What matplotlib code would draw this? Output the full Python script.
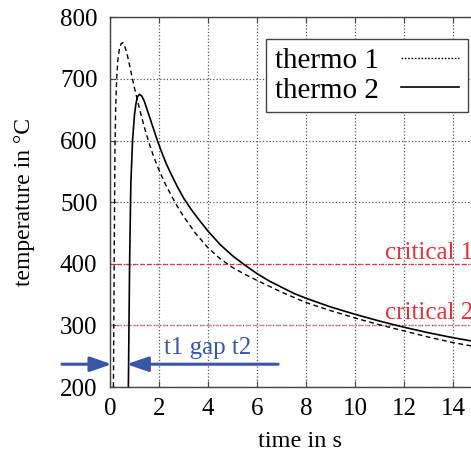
import matplotlib
matplotlib.use("Agg")
import matplotlib.pyplot as plt
from matplotlib.lines import Line2D

plt.rcParams['font.family'] = ['Liberation Serif', 'DejaVu Serif']
plt.rcParams['font.size'] = 17

# thermo 1 (dashed)
t1_time = [0.14, 0.17, 0.20, 0.23, 0.27, 0.32, 0.38, 0.45, 0.52, 0.60, 0.70, 0.80, 0.90,
           1.0, 1.2, 1.4, 1.6, 1.8, 2.0, 2.25, 2.5, 2.75, 3.0, 3.5, 4.0, 4.5, 5.0, 5.5,
           6.0, 7.0, 8.0, 9.0, 10.0, 11.0, 12.0, 13.0, 14.0, 15.0]
t1_temp = [200, 400, 580, 650, 700, 730, 748, 757, 759, 753, 740, 722, 703,
           685, 652, 622, 595, 572, 552, 530, 511, 493, 477, 449, 426, 408, 394, 383,
           373, 354, 337, 324, 312, 301, 291, 281, 272, 265]

# thermo 2 (solid)
t2_time = [0.75, 0.80, 0.85, 0.92, 1.00, 1.06, 1.12, 1.20, 1.30, 1.40, 1.50, 1.60, 1.75,
           1.9, 2.1, 2.3, 2.5, 2.75, 3.0, 3.3, 3.6, 4.0, 4.5, 5.0, 5.5, 6.0, 6.5, 7.0,
           7.5, 8.0, 9.0, 10.0, 11.0, 12.0, 13.0, 14.0, 15.0]
t2_temp = [200, 400, 530, 600, 642, 660, 671, 675, 672, 664, 652, 640, 622,
           604, 582, 562, 545, 525, 507, 489, 473, 453, 431, 413, 398, 384, 372, 362,
           352, 344, 330, 318, 307, 297, 288, 280, 273]

critical_levels = [400, 300]
critical_labels = ['critical 1', 'critical 2']
gap_label = 't1 gap t2'
t_start_1 = 0.14
t_start_2 = 0.75
gap_level = 237

W, H = 471, 453
fig = plt.figure(figsize=(W / 100, H / 100), dpi=100)
ax = fig.add_axes([110 / W, 66 / H, 15 * 24.5 / W, 369.7 / H])

ax.set_xlim(0, 15)
ax.set_ylim(200, 800)
ax.set_xticks(range(0, 15, 2))
ax.set_yticks(range(200, 801, 100))

ax.grid(True, linestyle=':', color='#555555', linewidth=0.9)
ax.set_axisbelow(True)

red = '#e8303a'
ax.axhline(critical_levels[0], color=red, linestyle=(0, (3, 3)), linewidth=0.9, zorder=1.5)
ax.axhline(critical_levels[1], color='#f07a80', linestyle=(0, (3, 3)), linewidth=0.9, zorder=1.5)
ax.text(11.22, 408, critical_labels[0], color=red, va='baseline', ha='left', fontsize=18)
ax.text(11.22, 310, critical_labels[1], color=red, va='baseline', ha='left', fontsize=18)

ax.plot(t1_time, t1_temp, color='black', linestyle=(0, (3.5, 2.5)), linewidth=1.0, zorder=3)
ax.plot(t2_time, t2_temp, color='black', linestyle='-', linewidth=1.2, zorder=3)

blue = '#3a56a6'
ax.annotate('', xy=(t_start_1 - 0.07, gap_level), xytext=(-1.96, gap_level),
            arrowprops=dict(arrowstyle='-|>,head_length=1.3,head_width=0.45', color=blue,
                            lw=2.2, mutation_scale=10, shrinkA=0, shrinkB=0),
            annotation_clip=False, zorder=4)
ax.annotate('', xy=(t_start_2 - 0.07, gap_level), xytext=(6.86, gap_level),
            arrowprops=dict(arrowstyle='-|>,head_length=1.3,head_width=0.45', color=blue,
                            lw=2.2, mutation_scale=10, shrinkA=0, shrinkB=0),
            annotation_clip=False, zorder=4)
ax.text(4.0, 263, gap_label, color=blue, ha='center', va='center', fontsize=18)

for s in ax.spines.values():
    s.set_color('#444444')
    s.set_linewidth(1.0)
ax.tick_params(direction='in', top=True, right=True, length=4, width=0.8,
               colors='#444444', labelcolor='black', labelsize=18)
ax.tick_params(axis='x', pad=8)
ax.tick_params(axis='y', pad=9)

ax.set_xlabel('time in s', fontsize=17.5)
ax.set_ylabel('temperature in °C', fontsize=17)
ax.xaxis.set_label_coords((300 - 110) / (15 * 24.5), -(431 - 387) / 369.7)
ax.yaxis.set_label_coords(-(110 - 35) / (15 * 24.5), 0.5)

handles = [Line2D([], [], color='black', linestyle=(0, (1.2, 1.2)), linewidth=1.0),
           Line2D([], [], color='black', linestyle='-', linewidth=1.2)]
leg = fig.legend(handles, ['thermo 1', 'thermo 2'], loc='upper right',
                 bbox_to_anchor=(467.7 / W, 1 - 39 / H), markerfirst=False,
                 fancybox=False, framealpha=1, edgecolor='#444444', fontsize=21,
                 handlelength=2.0, handletextpad=0.75, labelspacing=0.1,
                 borderpad=0.3, borderaxespad=0)
leg.get_frame().set_linewidth(1.0)

fig.savefig('out.png', dpi=100)
